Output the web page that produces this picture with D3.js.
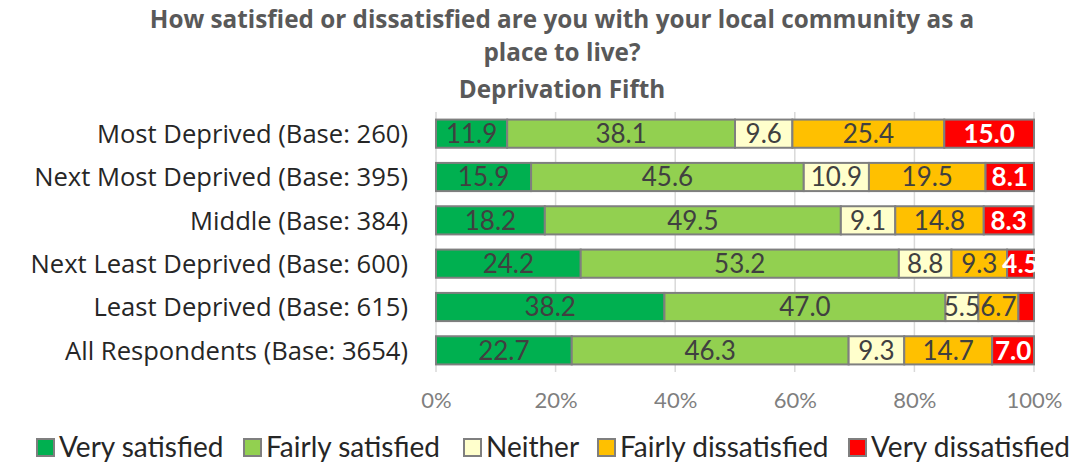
<!DOCTYPE html>
<html>
<head>
<meta charset="utf-8">
<script src="https://cdn.jsdelivr.net/npm/d3@7"></script>
<style>
  body { margin: 0; background: #fff; }
  svg { display: block; }
</style>
</head>
<body>
<svg id="chart" width="1092" height="462"></svg>
<script>
const categories = [
  "Most Deprived (Base: 260)",
  "Next Most Deprived (Base: 395)",
  "Middle (Base: 384)",
  "Next Least Deprived (Base: 600)",
  "Least Deprived (Base: 615)",
  "All Respondents (Base: 3654)"
];
const seriesNames = ["Very satisfied", "Fairly satisfied", "Neither", "Fairly dissatisfied", "Very dissatisfied"];
const verySatisfied      = [11.9, 15.9, 18.2, 24.2, 38.2, 22.7];
const fairlySatisfied    = [38.1, 45.6, 49.5, 53.2, 47.0, 46.3];
const neither            = [9.6, 10.9, 9.1, 8.8, 5.5, 9.3];
const fairlyDissatisfied = [25.4, 19.5, 14.8, 9.3, 6.7, 14.7];
const veryDissatisfied   = [15.0, 8.1, 8.3, 4.5, 2.6, 7.0];
const tickValues = [0, 20, 40, 60, 80, 100];
const titleLines = ["How satisfied or dissatisfied are you with your local community as a", "place to live?", "Deprivation Fifth"];

const colors = ["#00B050", "#92D050", "#FFFFCC", "#FFC000", "#FF0000"];
const seriesValues = [verySatisfied, fairlySatisfied, neither, fairlyDissatisfied, veryDissatisfied];

const wideFont = "'Open Sans', sans-serif";
const narrowFont = "Lato, sans-serif";

const rows = categories.map((c, i) => {
  const r = { cat: c };
  seriesNames.forEach((s, j) => r[s] = seriesValues[j][i]);
  return r;
});
const stacked = d3.stack().keys(seriesNames)(rows);

const svg = d3.select("#chart");
const x = d3.scaleLinear().domain([0, 100]).range([436, 1034]);
const y = d3.scaleBand().domain(categories).range([112, 372]).paddingInner(0.35).paddingOuter(0.175);
const color = d3.scaleOrdinal().domain(seriesNames).range(colors);

// Title
svg.append("g").selectAll("text").data(titleLines).join("text")
  .attr("x", 562)
  .attr("y", (d, i) => [28, 61, 98][i])
  .attr("text-anchor", "middle")
  .attr("font-family", wideFont)
  .attr("font-size", 24.3)
  .attr("font-weight", "bold")
  .attr("fill", "#595959")
  .text(d => d);

// Gridlines
svg.append("g").selectAll("line").data(tickValues).join("line")
  .attr("x1", d => x(d)).attr("x2", d => x(d))
  .attr("y1", 112).attr("y2", 372)
  .attr("stroke", "#d9d9d9").attr("stroke-width", 1.5);

// Bars
const layers = svg.append("g").selectAll("g").data(stacked).join("g")
  .attr("fill", d => color(d.key));
layers.selectAll("rect").data(d => d).join("rect")
  .attr("x", d => x(d[0]))
  .attr("y", d => y(d.data.cat))
  .attr("width", d => x(d[1]) - x(d[0]))
  .attr("height", y.bandwidth())
  .attr("stroke", "#7f7f7f")
  .attr("stroke-width", 2);

// Data labels
const labelG = svg.append("g");
stacked.forEach((layer, li) => {
  labelG.selectAll(null).data(layer.filter(d => (d[1] - d[0]) >= 3)).join("text")
    .attr("x", d => (x(d[0]) + x(d[1])) / 2)
    .attr("y", d => y(d.data.cat) + y.bandwidth() / 2)
    .attr("dy", "0.36em")
    .attr("text-anchor", "middle")
    .attr("font-family", narrowFont)
    .attr("font-size", 26)
    .attr("font-weight", li === 4 ? "bold" : "normal")
    .attr("fill", li === 4 ? "#ffffff" : "#404040")
    .text(d => (d[1] - d[0]).toFixed(1));
});

// Category axis labels
svg.append("g").selectAll("text").data(categories).join("text")
  .attr("x", 408)
  .attr("y", d => y(d) + y.bandwidth() / 2)
  .attr("dy", "0.36em")
  .attr("text-anchor", "end")
  .attr("font-family", wideFont)
  .attr("font-size", 25.6)
  .attr("fill", "#262626")
  .text(d => d);

// X axis tick labels
const xAxis = d3.axisBottom(x).tickValues(tickValues).tickFormat(d => d + "%").tickSize(0).tickPadding(0);
const ax = svg.append("g").attr("transform", "translate(0,392)").call(xAxis);
ax.select(".domain").remove();
ax.selectAll("text").attr("font-size", 22).attr("fill", "#7f7f7f")
  .attr("font-family", narrowFont);

// Legend
const legendX = [37, 244, 464, 598, 849];
const lg = svg.append("g").selectAll("g").data(seriesNames).join("g")
  .attr("transform", (d, i) => `translate(${legendX[i]},447)`);
lg.append("rect").attr("x", 0).attr("y", -8).attr("width", 17).attr("height", 17)
  .attr("fill", d => color(d)).attr("stroke", "#7f7f7f").attr("stroke-width", 2);
lg.append("text").attr("x", 22).attr("dy", "0.36em")
  .attr("font-family", narrowFont)
  .attr("font-size", 28).attr("fill", "#262626").text(d => d);
</script>
</body>
</html>
